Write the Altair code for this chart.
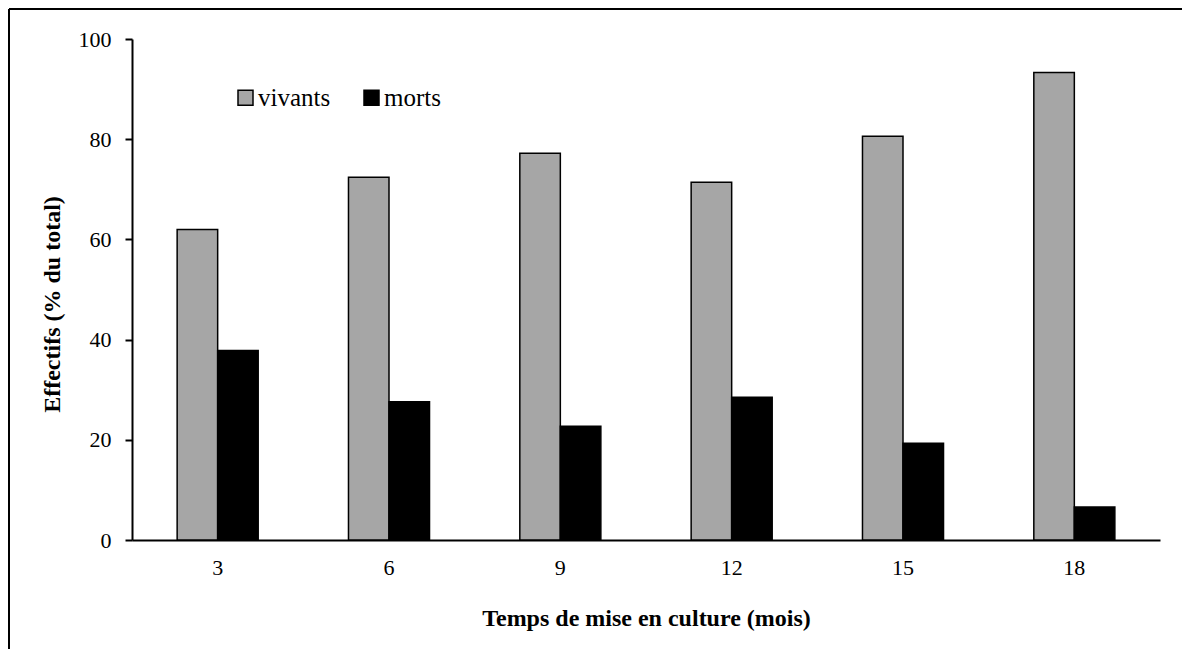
import altair as alt
import pandas as pd

mois = ["3", "6", "9", "12", "15", "18"]
vivants = [62.0, 72.4, 77.2, 71.4, 80.6, 93.3]
morts = [37.8, 27.6, 22.7, 28.5, 19.3, 6.6]
series = ["vivants", "morts"]
colors = ["#a6a6a6", "#000000"]

rows = []
for i, m in enumerate(mois):
    rows.append({"mois": m, "serie": "vivants", "val": vivants[i]})
    rows.append({"mois": m, "serie": "morts", "val": morts[i]})
df = pd.DataFrame(rows)

FONT = "Times New Roman"
W, H = 1028, 501
PAD = {"left": 124, "top": 31, "right": 24, "bottom": 112}

bars = alt.Chart(df).mark_bar(stroke="black", strokeWidth=1.5).encode(
    x=alt.X("mois:N", sort=mois,
            scale=alt.Scale(paddingInner=0.527, paddingOuter=0.2635),
            axis=alt.Axis(title="Temps de mise en culture (mois)", labelAngle=0,
                          ticks=False, labelPadding=17, domainColor="black",
                          domainWidth=2, labelFontSize=22, labelFont=FONT,
                          labelColor="black", titleFont=FONT, titleFontSize=24,
                          titleFontWeight="bold", titleColor="black",
                          titleX=W / 2, titleY=78, titleBaseline="middle")),
    xOffset=alt.XOffset("serie:N", sort=series,
                        scale=alt.Scale(domain=series, paddingInner=0, paddingOuter=0)),
    y=alt.Y("val:Q",
            scale=alt.Scale(domain=[0, 100], nice=False),
            axis=alt.Axis(title="Effectifs (% du total)", values=[0, 20, 40, 60, 80, 100],
                          grid=False, tickSize=7, tickWidth=2, tickColor="black",
                          domainColor="black", domainWidth=2, labelPadding=14,
                          labelFontSize=22, labelFont=FONT, labelColor="black",
                          titleFont=FONT, titleFontSize=24, titleFontWeight="bold",
                          titleColor="black", titleX=-80, titleY=265,
                          titleAngle=270, titleBaseline="middle")),
    color=alt.Color("serie:N", sort=series,
                    scale=alt.Scale(domain=series, range=colors),
                    legend=alt.Legend(title=None, orient="none", direction="horizontal",
                                      legendX=101, legendY=46, symbolType="square",
                                      symbolSize=225, symbolStrokeColor="black",
                                      symbolStrokeWidth=1.5, labelFont=FONT,
                                      labelFontSize=25, labelColor="black",
                                      labelOffset=0, columnPadding=28)),
)

frame = pd.DataFrame({"k": [0]})
top_line = alt.Chart(frame).mark_rule(color="black", strokeWidth=2).encode(
    x=alt.value(-123), x2=alt.value(W + PAD["right"] - 2), y=alt.value(-30), y2=alt.value(-30)
)
left_line = alt.Chart(frame).mark_rule(color="black", strokeWidth=2).encode(
    x=alt.value(-123), x2=alt.value(-123), y=alt.value(-30), y2=alt.value(H + PAD["bottom"] - 3)
)

chart = alt.layer(bars, top_line, left_line).properties(
    width=W, height=H,
    autosize=alt.AutoSizeParams(type="none"),
    padding=PAD,
).configure(font=FONT).configure_view(stroke=None)

chart.save("out.html", embed_options={"renderer": "svg", "actions": False})
